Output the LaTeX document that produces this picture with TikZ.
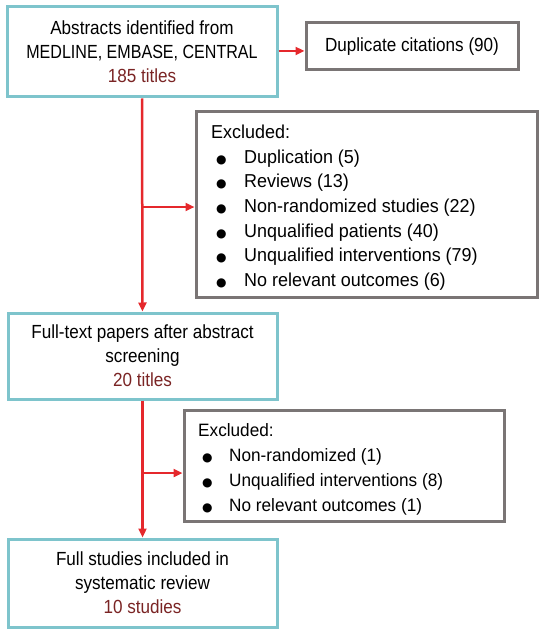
\documentclass[tikz,border=0pt]{standalone}
\usepackage{fontspec}
\usepackage{graphicx}
\setmainfont{Liberation Sans}
\newfontfamily\boxfont{Liberation Sans}[FakeStretch=0.9]
\newfontfamily\listfont{Liberation Sans}[FakeStretch=0.96]
\newfontfamily\dvsans{DejaVu Sans}
\usetikzlibrary{arrows.meta,calc}
\definecolor{boxcyan}{HTML}{7EC4CC}
\definecolor{boxgray}{HTML}{7A7575}
\definecolor{arrred}{HTML}{E5282C}
\definecolor{numred}{HTML}{7A2424}
\newcommand{\blt}{{\dvsans\fontsize{12}{12}\selectfont ●}}
\begin{document}
\begin{tikzpicture}[x=1pt,y=-1pt,
  mainbox/.style={draw=boxcyan,line width=3pt,inner sep=0pt,align=center,
    font=\boxfont\fontsize{19}{24}\selectfont},
  sidebox/.style={draw=boxgray,line width=3pt,inner sep=0pt},
  listtext/.style={inner sep=0pt,anchor=north west,align=left},
  flow/.style={draw=arrred,line width=2.5pt,-{Triangle[length=9pt,width=8pt]}}]
\useasboundingbox (0,0) rectangle (556,631);
\node[mainbox,minimum width=270pt,minimum height=90pt] (box1) at (142,52)
  {Abstracts identified from\\ \scalebox{0.94}[1]{MEDLINE, EMBASE, CENTRAL}\\ \textcolor{numred}{185 titles}};
\node[sidebox,minimum width=212pt,minimum height=47pt,font=\boxfont\fontsize{19}{24}\selectfont] (dup) at (412,46.5)
  {Duplicate citations (90)};
\node[sidebox,minimum width=341pt,minimum height=185pt] (excl1) at (366.5,204.5) {};
\node[listtext,font=\listfont\fontsize{18.7}{24.6}\selectfont] (list1) at (211,125)
  {Excluded:\\
   \hspace{5pt}\makebox[28pt][l]{\blt}Duplication (5)\\
   \hspace{5pt}\makebox[28pt][l]{\blt}Reviews (13)\\
   \hspace{5pt}\makebox[28pt][l]{\blt}Non-randomized studies (22)\\
   \hspace{5pt}\makebox[28pt][l]{\blt}Unqualified patients (40)\\
   \hspace{5pt}\makebox[28pt][l]{\blt}Unqualified interventions (79)\\
   \hspace{5pt}\makebox[28pt][l]{\blt}No relevant outcomes (6)};
\node[mainbox,minimum width=269pt,minimum height=86pt] (box2) at (142.5,356)
  {Full-text papers after abstract\\ screening\\ \textcolor{numred}{20 titles}};
\node[sidebox,minimum width=320pt,minimum height=111pt] (excl2) at (344,465.5) {};
\node[listtext,font=\listfont\fontsize{17.9}{25}\selectfont] (list2) at (198,423.5)
  {Excluded:\\
   \hspace{4pt}\makebox[27pt][l]{\blt}Non-randomized (1)\\
   \hspace{4pt}\makebox[27pt][l]{\blt}Unqualified interventions (8)\\
   \hspace{4pt}\makebox[27pt][l]{\blt}No relevant outcomes (1)};
\node[mainbox,minimum width=269pt,minimum height=88pt] (box3) at (142.5,583)
  {Full studies included in\\ systematic review\\ \textcolor{numred}{10 studies}};
\coordinate (j1) at (142,207);
\coordinate (j2) at (142.5,473);
\draw[flow] (box1.east |- 0,51) -- (dup.west |- 0,51);
\draw[flow] (box1.south) -- (box2.north);
\draw[flow] (j1) -- (j1 -| excl1.west);
\draw[flow] (box2.south) -- (box3.north);
\draw[flow] (j2) -- (j2 -| excl2.west);
\end{tikzpicture}
\end{document}
